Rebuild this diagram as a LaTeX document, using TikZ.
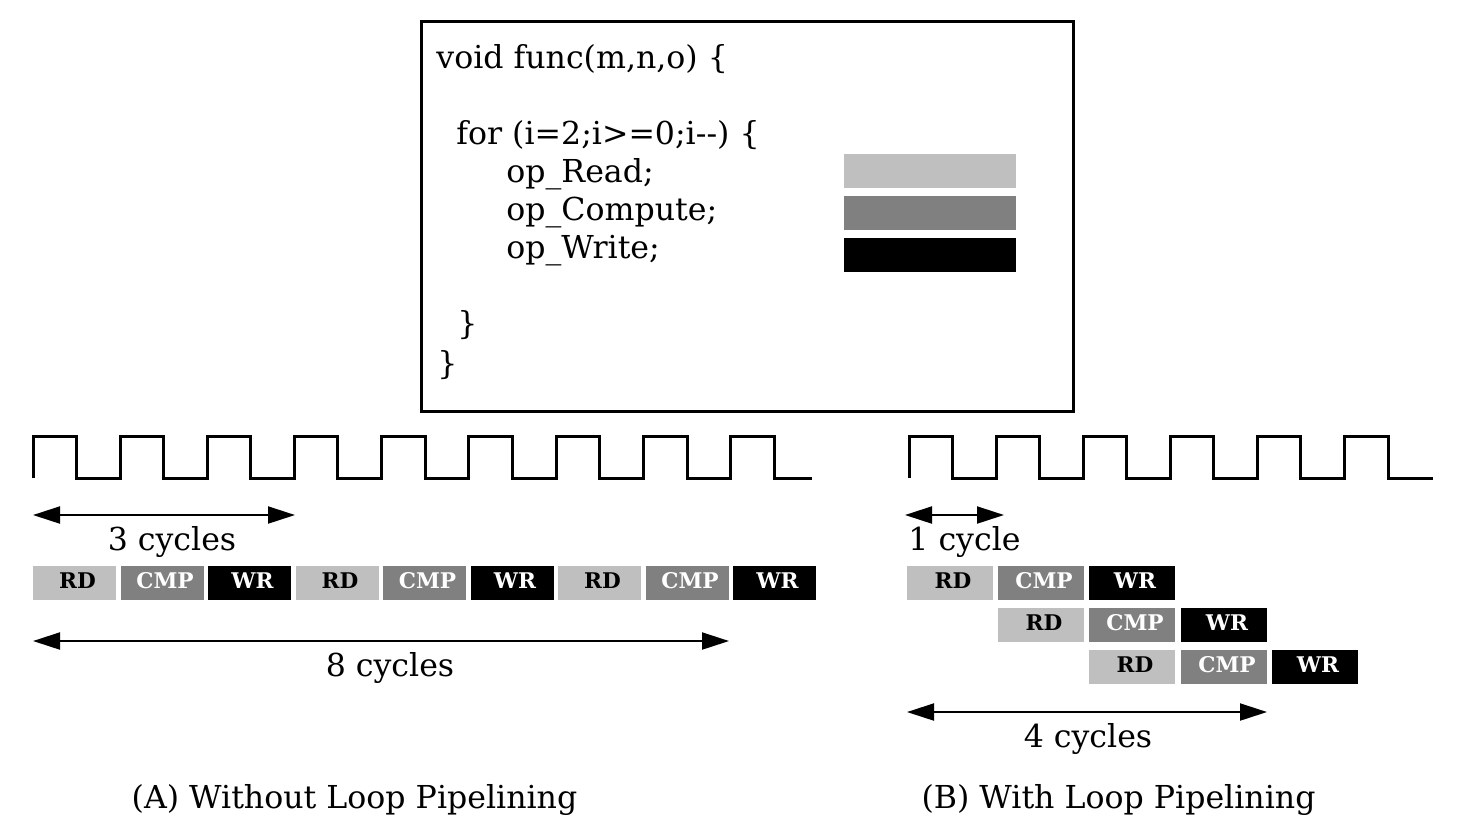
\documentclass[tikz,border=0pt]{standalone}
\usepackage{fontspec}
\setmainfont{DejaVu Serif}
\usetikzlibrary{arrows.meta}
\definecolor{lgray}{HTML}{BFBFBF}
\definecolor{mgray}{HTML}{808080}
\newcommand{\blklabel}[1]{\hspace*{3pt}#1}
\begin{document}
\begin{tikzpicture}[x=0.5pt,y=-0.5pt,
  txt/.style={font=\fontsize{15.8}{19}\selectfont, inner sep=0},
  code/.style={txt, anchor=base west},
  lbl/.style={txt, anchor=base},
  blk/.style={inner sep=0, minimum height=17pt, text depth=2.5pt, font=\fontsize{10.8}{12}\selectfont\bfseries},
  lblk/.style={blk, minimum width=41.5pt},
  rblk/.style={blk, minimum width=43pt},
  rd/.style={fill=lgray, text=black},
  cmp/.style={fill=mgray, text=white},
  wr/.style={fill=black, text=white},
  bar/.style={inner sep=0, minimum width=86pt, minimum height=17pt},
  clk/.style={line width=1.5pt},
  dimarrow/.style={line width=1pt, {Triangle[length=13.5pt,width=8.5pt]}-{Triangle[length=13.5pt,width=8.5pt]}}
]
\useasboundingbox (0,0) rectangle (1460,827);

% code box
\node[draw, line width=1.5pt, inner sep=0, minimum width=326pt, minimum height=195pt] (box) at (747,216) {};
\node[code] (c1) at (436,68) {void func(m,n,o) \{};
\node[code] (c2) at (456,144) {for (i=2;i>=0;i-{}-) \{};
\node[code] (c3) at (506,182) {op\_Read;};
\node[code] (c4) at (506,220) {op\_Compute;};
\node[code] (c5) at (506,258) {op\_Write;};
\node[code] (c6) at (457,334) {\}};
\node[code] (c7) at (437,374) {\}};
\node[bar, fill=lgray] (b1) at (930,171) {};
\node[bar, fill=mgray] (b2) at (930,213) {};
\node[bar, fill=black] (b3) at (930,255) {};

% left clock
\draw[clk] (33,478)--(33,436)--(76,436)--(76,478)--(120,478)--(120,436)--(163,436)--(163,478)--(207,478)--(207,436)--(250,436)--(250,478)--(294,478)--(294,436)--(337,436)--(337,478)--(381,478)--(381,436)--(425,436)--(425,478)--(468,478)--(468,436)--(512,436)--(512,478)--(556,478)--(556,436)--(599,436)--(599,478)--(643,478)--(643,436)--(687,436)--(687,478)--(730,478)--(730,436)--(774,436)--(774,478)--(812,478);

% right clock
\draw[clk] (909,478)--(909,436)--(952,436)--(952,478)--(996,478)--(996,436)--(1039,436)--(1039,478)--(1083,478)--(1083,436)--(1126,436)--(1126,478)--(1170,478)--(1170,436)--(1213,436)--(1213,478)--(1257,478)--(1257,436)--(1300,436)--(1300,478)--(1344,478)--(1344,436)--(1388,436)--(1388,478)--(1433,478);

% left blocks
\node[lblk,rd]  (l1) at (74.5,583) {\blklabel{RD}};
\node[lblk,cmp] (l2) at (162,583) {\blklabel{CMP}};
\node[lblk,wr]  (l3) at (249.5,583) {\blklabel{WR}};
\node[lblk,rd]  (l4) at (337,583) {\blklabel{RD}};
\node[lblk,cmp] (l5) at (424.5,583) {\blklabel{CMP}};
\node[lblk,wr]  (l6) at (512,583) {\blklabel{WR}};
\node[lblk,rd]  (l7) at (599.5,583) {\blklabel{RD}};
\node[lblk,cmp] (l8) at (687,583) {\blklabel{CMP}};
\node[lblk,wr]  (l9) at (774.5,583) {\blklabel{WR}};

% left dimensions
\coordinate (a3l) at (33,515);
\coordinate (a3r) at (295,515);
\draw[dimarrow] (a3l) -- (a3r);
\node[lbl] (t3) at (172,550) {3 cycles};
\coordinate (a8l) at (33,641);
\coordinate (a8r) at (729,641);
\draw[dimarrow] (a8l) -- (a8r);
\node[lbl] (t8) at (390,676) {8 cycles};

% right blocks
\node[rblk,rd]  (r11) at (950,583) {\blklabel{RD}};
\node[rblk,cmp] (r12) at (1041,583) {\blklabel{CMP}};
\node[rblk,wr]  (r13) at (1132,583) {\blklabel{WR}};
\node[rblk,rd]  (r21) at (1041,625) {\blklabel{RD}};
\node[rblk,cmp] (r22) at (1132,625) {\blklabel{CMP}};
\node[rblk,wr]  (r23) at (1224,625) {\blklabel{WR}};
\node[rblk,rd]  (r31) at (1132,667) {\blklabel{RD}};
\node[rblk,cmp] (r32) at (1224,667) {\blklabel{CMP}};
\node[rblk,wr]  (r33) at (1315,667) {\blklabel{WR}};

% right dimensions
\coordinate (a1l) at (905,515);
\coordinate (a1r) at (1004,515);
\draw[dimarrow] (a1l) -- (a1r);
\node[code] (t1) at (908,550) {1 cycle};
\coordinate (a4l) at (907,712);
\coordinate (a4r) at (1267,712);
\draw[dimarrow] (a4l) -- (a4r);
\node[lbl] (t4) at (1088,747) {4 cycles};

% captions
\node[lbl] (capA) at (354.5,808) {(A) Without Loop Pipelining};
\node[lbl] (capB) at (1118.5,808) {(B) With Loop Pipelining};
\end{tikzpicture}
\end{document}
